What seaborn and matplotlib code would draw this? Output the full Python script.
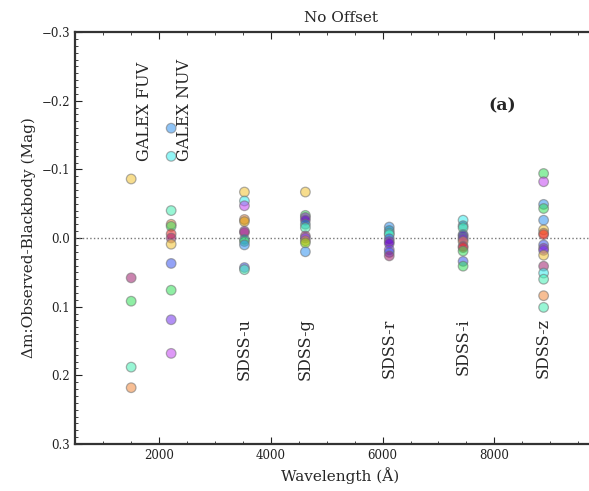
import numpy as np
import pandas as pd
import matplotlib
matplotlib.use("Agg")
import matplotlib.pyplot as plt
from matplotlib.ticker import MultipleLocator, FixedLocator
import seaborn as sns

# Band wavelengths (Angstrom)
bands = ["GALEX FUV", "GALEX NUV", "SDSS-u", "SDSS-g", "SDSS-r", "SDSS-i", "SDSS-z"]
wavelengths = [1505, 2220, 3530, 4620, 6120, 7440, 8880]

# colours used for the objects
YEL, MAG, GRN, AQU, ORA = "#f2c232", "#a0206e", "#34e05a", "#44f0b4", "#f28a3c"
BLU, CYA, RED, VIO, PVI = "#3a56f0", "#38eef0", "#f02424", "#7434ee", "#c446f2"
DPU, LIM, TEA, SKY, GLD = "#5e00c4", "#84e000", "#1090b2", "#3292f0", "#d49800"
PUR = "#9020c0"

fuv_dm = [-0.086, 0.058, 0.092, 0.188, 0.218]
fuv_col = [YEL, MAG, GRN, AQU, ORA]

nuv_dm = [-0.160, -0.119, -0.040, -0.020, -0.017, -0.006, 0.000, 0.009, 0.037, 0.076, 0.119, 0.168]
nuv_col = [SKY, CYA, AQU, ORA, GRN, RED, MAG, YEL, BLU, GRN, VIO, PVI]

u_dm = [-0.067, -0.054, -0.047, -0.027, -0.024, -0.010, -0.008, 0.002, 0.005, 0.010, 0.043, 0.046]
u_col = [YEL, CYA, PVI, ORA, GLD, PUR, MAG, TEA, GRN, SKY, BLU, AQU]

g_dm = [-0.067, -0.033, -0.030, -0.026, -0.020, -0.015, -0.003, 0.000, 0.004, 0.007, 0.020]
g_col = [YEL, GRN, PUR, DPU, TEA, AQU, MAG, VIO, ORA, LIM, SKY]

r_dm = [-0.016, -0.011, -0.007, -0.005, 0.001, 0.005, 0.008, 0.017, 0.021, 0.026]
r_col = [SKY, TEA, CYA, AQU, BLU, PUR, DPU, VIO, BLU, MAG]

i_dm = [-0.026, -0.018, -0.015, -0.005, -0.003, 0.000, 0.002, 0.005, 0.012, 0.014, 0.019, 0.034, 0.041]
i_col = [CYA, TEA, AQU, TEA, DPU, BLU, PUR, ORA, MAG, RED, GRN, BLU, GRN]

z_dm = [-0.094, -0.082, -0.049, -0.043, -0.026, -0.012, -0.007, -0.005, 0.010, 0.015,
        0.018, 0.025, 0.041, 0.051, 0.060, 0.084, 0.101]
z_col = [GRN, PVI, SKY, GRN, SKY, YEL, ORA, RED, BLU, PUR, VIO, YEL, MAG, CYA, AQU, ORA, AQU]

all_dm = [fuv_dm, nuv_dm, u_dm, g_dm, r_dm, i_dm, z_dm]
all_col = [fuv_col, nuv_col, u_col, g_col, r_col, i_col, z_col]

# label positions
label_x = [1735, 2452, 3530, 4620, 6120, 7440, 8880]

rows = []
for b, wl, dms, cols in zip(bands, wavelengths, all_dm, all_col):
    for d, c in zip(dms, cols):
        rows.append({"band": b, "wl": wl, "dm": d, "c": c})
df = pd.DataFrame(rows)

sns.set_style("ticks")
plt.rcParams["font.family"] = ["DejaVu Serif"]
plt.rcParams["xtick.direction"] = "in"
plt.rcParams["ytick.direction"] = "in"

fig = plt.figure(figsize=(5.89, 4.91), dpi=100)
ax = fig.add_axes([0.1273, 0.0957, 0.902, 0.839])

ax.axhline(0, color="#777777", ls=":", lw=1.0, zorder=1)

pal = {c: c for c in df["c"].unique()}
sns.scatterplot(data=df, x="wl", y="dm", hue="c", palette=pal, legend=False,
                s=48, alpha=0.55, edgecolor="#707070", linewidth=0.9, ax=ax, zorder=3)

for b, lx in zip(bands, label_x):
    if b.startswith("GALEX"):
        ax.text(lx, -0.112, b, rotation=90, ha="center", va="bottom", fontsize=11.5)
    else:
        ax.text(lx, 0.117, b, rotation=90, ha="center", va="top", fontsize=11.5)

ax.text(8146, -0.193, "(a)", ha="center", va="center", fontsize=12.5, fontweight="bold")

ax.set_xlim(500, 10000)
ax.set_ylim(0.3, -0.3)
ax.xaxis.set_major_locator(FixedLocator([2000, 4000, 6000, 8000]))
ax.xaxis.set_minor_locator(MultipleLocator(500))
ax.yaxis.set_minor_locator(MultipleLocator(0.01))
ax.tick_params(which="both", top=True, right=True, direction="in", colors="#222222",
               labelsize=8.5)
ax.tick_params(which="major", length=5, width=0.8)
ax.tick_params(which="minor", length=2.5, width=0.6)
ax.set_yticks(np.arange(-0.3, 0.31, 0.1))
ax.set_yticklabels(["\u22120.3", "\u22120.2", "\u22120.1", "0.0", "0.1", "0.2", "0.3"])
for sp in ax.spines.values():
    sp.set_linewidth(1.6)
    sp.set_color("#333333")

ax.set_xlabel("Wavelength (\u00c5)", fontsize=11)
ax.set_ylabel("\u0394m:Observed-Blackbody (Mag)", fontsize=11)
ax.set_title("No Offset", fontsize=11, pad=7)

fig.savefig("out.png", dpi=100)
